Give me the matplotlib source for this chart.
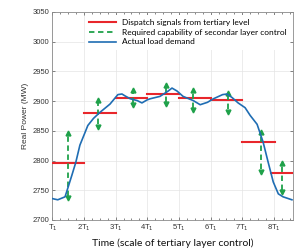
import matplotlib
matplotlib.use('Agg')
import matplotlib.pyplot as plt
from matplotlib.ticker import AutoMinorLocator

# actual load demand (time in units of T1, power in MW)
load_t = [1.0, 1.17, 1.4, 1.49, 1.62, 1.74, 1.87, 2.03, 2.12, 2.3, 2.5, 2.82, 3.07, 3.2,
          3.29, 3.46, 3.68, 3.83, 3.99, 4.09, 4.4, 4.66, 4.78, 4.94, 5.13, 5.45, 5.67, 5.9,
          6.09, 6.38, 6.52, 6.68, 6.87, 7.09, 7.25, 7.47, 7.66, 7.82, 7.98, 8.14, 8.29, 8.57]
load_mw = [2736, 2734, 2739, 2754, 2776, 2797, 2826, 2847, 2859, 2871, 2881, 2895, 2911, 2912,
           2909, 2904, 2901, 2897, 2902, 2904, 2908, 2917, 2922, 2917, 2908, 2901, 2894, 2898,
           2904, 2911, 2912, 2906, 2897, 2889, 2876, 2861, 2831, 2797, 2764, 2744, 2739, 2734]

# dispatch signals from tertiary level
disp_start = [1, 2, 3, 4, 5, 6, 7, 7.9]
disp_end = [2, 3, 4, 5, 6, 7, 8.05, 8.6]
disp_mw = [2796, 2880, 2905, 2912, 2905, 2902, 2831, 2779]

# required capability of secondary control
req_t = [1.5, 2.45, 3.55, 4.6, 5.45, 6.55, 7.6, 8.25]
req_lo = [2737, 2857, 2893, 2895, 2885, 2882, 2781, 2747]
req_hi = [2847, 2902, 2918, 2927, 2918, 2913, 2848, 2796]

xtick_vals = [1, 2, 3, 4, 5, 6, 7, 8]
xtick_labels = ['T$_1$'] + ['%dT$_1$' % k for k in range(2, 9)]

red = '#e8262b'
green = '#1fa14a'
blue = '#1f6db3'

fig = plt.figure(figsize=(3.01, 2.50), dpi=100)
ax = fig.add_axes([0.174, 0.12, 0.799, 0.832])

for i in range(len(disp_mw)):
    ax.plot([disp_start[i], disp_end[i]], [disp_mw[i], disp_mw[i]], color=red, lw=1.5, zorder=3,
            label='Dispatch signals from tertiary level' if i == 0 else None)

for i in range(len(req_t)):
    ax.plot([req_t[i], req_t[i]], [req_lo[i] + 4, req_hi[i] - 4], color=green, lw=1.3,
            ls=(0, (3, 2)), zorder=4,
            label='Required capability of secondar layer control' if i == 0 else None)
    ax.plot(req_t[i], req_hi[i], marker='^', color=green, ms=3.5, zorder=4)
    ax.plot(req_t[i], req_lo[i], marker='v', color=green, ms=3.5, zorder=4)

ax.plot(load_t, load_mw, color=blue, lw=1.2, zorder=5, label='Actual load demand')

ax.set_xlim(1, 8.6)
ax.set_ylim(2700, 3050)
ax.set_xticks(xtick_vals)
ax.set_xticklabels(xtick_labels)
ax.set_yticks(range(2700, 3051, 50))
ax.xaxis.set_minor_locator(AutoMinorLocator(4))
ax.tick_params(which='both', direction='in', top=True, right=True, colors='#555555',
               labelsize=5.5, pad=2)
ax.tick_params(which='major', length=2.5, width=0.5)
ax.tick_params(which='minor', length=1.5, width=0.5)
for lab in ax.get_xticklabels() + ax.get_yticklabels():
    lab.set_family('Liberation Sans')
    lab.set_color('#333333')
for s in ax.spines.values():
    s.set_color('#8a8a8a')
    s.set_linewidth(0.6)
ax.grid(True, color='#e4e4e4', lw=0.5)
ax.set_axisbelow(True)

ax.set_ylabel('Real Power (MW)', fontsize=6, family='Liberation Sans', color='#333333', labelpad=3)
ax.set_xlabel('Time (scale of tertiary layer control)', fontsize=7.5, family='Lato',
              color='#111111', labelpad=3.5)

leg = ax.legend(loc='upper left', bbox_to_anchor=(0.125, 1.0),
                prop={'family': 'Lato', 'size': 6.0}, frameon=True, handlelength=3.2,
                handletextpad=0.7, labelspacing=0.35, borderaxespad=0.3, borderpad=0.5)
leg.get_frame().set_facecolor('white')
leg.get_frame().set_edgecolor('none')
leg.get_frame().set_alpha(1)

fig.savefig('out.png', dpi=100)
